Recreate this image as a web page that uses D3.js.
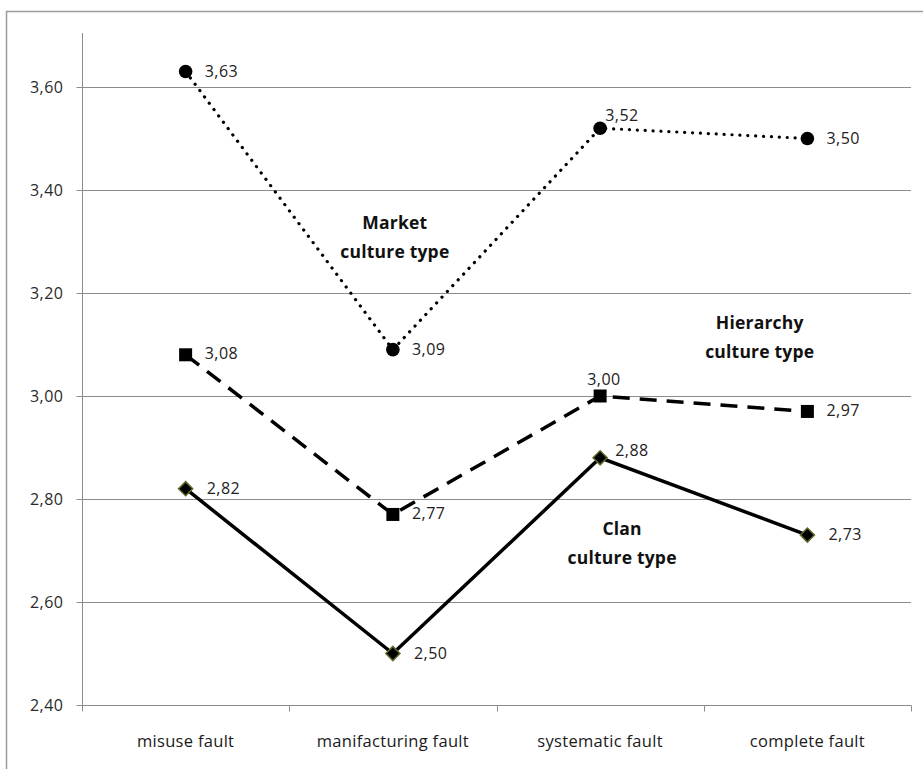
<!DOCTYPE html>
<html>
<head>
<meta charset="utf-8">
<script src="https://cdn.jsdelivr.net/npm/d3@7/dist/d3.min.js"></script>
<style>
  html, body { margin: 0; padding: 0; background: #fff; }
  svg { display: block; }
  text { font-family: "Open Sans", Lato, "Liberation Sans", sans-serif; }
</style>
</head>
<body>
<svg id="chart" width="923" height="769"></svg>
<script>
// Fault categories along the horizontal axis
const categories = ["misuse fault", "manifacturing fault", "systematic fault", "complete fault"];

// Mean scores per culture type
const marketValues = [3.63, 3.09, 3.52, 3.50];
const hierarchyValues = [3.08, 2.77, 3.00, 2.97];
const clanValues = [2.82, 2.50, 2.88, 2.73];

// Value axis ticks
const yTicks = [2.40, 2.60, 2.80, 3.00, 3.20, 3.40, 3.60];

const fmt = v => d3.format(".2f")(v).replace(".", ",");

const svg = d3.select("#chart");

// Outer chart frame
svg.append("path")
  .attr("d", "M6.5,769 V11.5 H923")
  .attr("fill", "none")
  .attr("stroke", "#9a9a9a")
  .attr("stroke-width", 1.5);

const plotLeft = 82, plotRight = 911, plotTop = 33, plotBottom = 705;

const x = d3.scaleBand().domain(categories).range([plotLeft, plotRight]);
const y = d3.scaleLinear().domain([2.40, 3.60]).range([plotBottom, 87]);
const cx = c => x(c) + x.bandwidth() / 2;

// Horizontal gridlines
svg.append("g").selectAll("line")
  .data(yTicks.filter(t => t > 2.40))
  .join("line")
  .attr("x1", plotLeft).attr("x2", plotRight)
  .attr("y1", d => Math.round(y(d)) + 0.5).attr("y2", d => Math.round(y(d)) + 0.5)
  .attr("stroke", "#8c8c8c").attr("stroke-width", 1);

// Value axis
const yAxis = d3.axisLeft(y).tickValues(yTicks).tickSize(6).tickPadding(13).tickFormat(fmt);
const gy = svg.append("g").attr("transform", `translate(${plotLeft + 0.5},0)`).call(yAxis);
gy.select(".domain").remove();
gy.append("line").attr("x1", 0).attr("x2", 0).attr("y1", plotTop).attr("y2", plotBottom).attr("stroke", "#8c8c8c");
gy.selectAll(".tick").attr("transform", d => `translate(0,${Math.round(y(d)) + 0.5})`);
gy.selectAll(".tick line").attr("stroke", "#8c8c8c");
gy.selectAll(".tick text")
  .attr("font-family", "'Open Sans', sans-serif")
  .attr("font-size", 16).attr("letter-spacing", 0.5).attr("fill", "#2a2a2a");

// Category axis
const gx = svg.append("g").attr("transform", `translate(0,${plotBottom + 0.5})`);
gx.append("line").attr("x1", plotLeft).attr("x2", plotRight + 0.5).attr("stroke", "#8c8c8c").attr("stroke-width", 1.2);
const boundaries = categories.map(c => x(c)).concat([x(categories[categories.length - 1]) + x.bandwidth()]);
gx.selectAll("line.tk").data(boundaries).join("line")
  .attr("class", "tk")
  .attr("x1", d => Math.round(d) + 0.5).attr("x2", d => Math.round(d) + 0.5)
  .attr("y1", 0).attr("y2", 6)
  .attr("stroke", "#8c8c8c");
gx.selectAll("text").data(categories).join("text")
  .attr("x", d => cx(d)).attr("y", 41)
  .attr("text-anchor", "middle")
  .attr("font-size", 16.5).attr("letter-spacing", 0.3).attr("fill", "#1a1a1a")
  .text(d => d);

const line = d3.line().x((d, i) => cx(categories[i])).y(d => y(d));

// Series lines
svg.append("path").datum(marketValues).attr("d", line)
  .attr("fill", "none").attr("stroke", "#000").attr("stroke-width", 3.2)
  .attr("stroke-linecap", "round").attr("stroke-dasharray", "0.1 7.8");
svg.append("path").datum(hierarchyValues).attr("d", line)
  .attr("fill", "none").attr("stroke", "#000").attr("stroke-width", 3.5)
  .attr("stroke-dasharray", "17 10");
svg.append("path").datum(clanValues).attr("d", line)
  .attr("fill", "none").attr("stroke", "#000").attr("stroke-width", 3.5);

// Markers
svg.append("g").selectAll("circle").data(marketValues).join("circle")
  .attr("cx", (d, i) => cx(categories[i])).attr("cy", d => y(d))
  .attr("r", 6.8).attr("fill", "#000");
svg.append("g").selectAll("rect").data(hierarchyValues).join("rect")
  .attr("x", (d, i) => cx(categories[i]) - 6.5).attr("y", d => y(d) - 6.5)
  .attr("width", 13).attr("height", 13).attr("fill", "#000");
svg.append("g").selectAll("path").data(clanValues).join("path")
  .attr("d", d3.symbol(d3.symbolSquare, 100))
  .attr("transform", (d, i) => `translate(${cx(categories[i])},${y(d)}) rotate(45)`)
  .attr("fill", "#000").attr("stroke", "#5d6a2a").attr("stroke-width", 1.5);

// Value labels
function labels(values, place) {
  svg.append("g").selectAll("text").data(values).join("text")
    .attr("x", (d, i) => cx(categories[i]) + place(i).dx)
    .attr("y", (d, i) => y(d) + place(i).dy)
    .attr("font-size", 16).attr("letter-spacing", 0.5).attr("fill", "#222")
    .attr("dominant-baseline", "middle")
    .text(fmt);
}
labels(marketValues, i => i === 2 ? { dx: 5, dy: -11 } : { dx: 19, dy: 1 });
labels(hierarchyValues, i => i === 2 ? { dx: -13, dy: -15 } : { dx: 19, dy: 0 });
labels(clanValues, i => i === 2 ? { dx: 15, dy: -6 } : { dx: 21, dy: 1 });

// Series annotations
function note(lines, px, py) {
  const t = svg.append("text").attr("text-anchor", "middle")
    .attr("font-size", 17.5).attr("font-weight", "bold").attr("letter-spacing", 0.2).attr("fill", "#111");
  lines.forEach((s, k) => t.append("tspan").attr("x", px).attr("y", py + k * 29).text(s));
}
note(["Market", "culture type"], cx(categories[1]) + 2, y(3.325));
note(["Hierarchy", "culture type"], (cx(categories[2]) + cx(categories[3])) / 2 + 56, y(3.13));
note(["Clan", "culture type"], cx(categories[2]) + 22, y(2.73));
</script>
</body>
</html>
